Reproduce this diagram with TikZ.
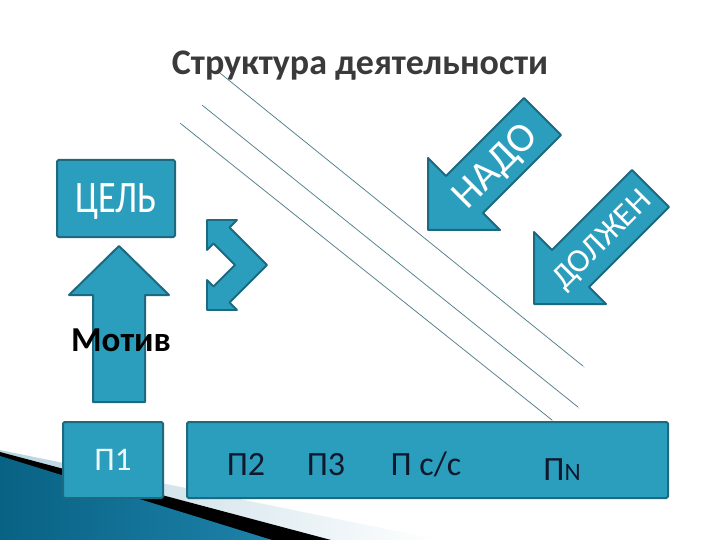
\documentclass[tikz,border=0pt]{standalone}
\usepackage{fontspec}
\setmainfont{Carlito}
\definecolor{tealfill}{RGB}{44,158,189}
\definecolor{tealline}{RGB}{28,105,128}
\definecolor{navytext}{RGB}{15,25,45}
\definecolor{titlegray}{RGB}{58,58,58}
\definecolor{diagline}{RGB}{70,125,140}
\definecolor{stripelight}{RGB}{185,212,224}
\definecolor{wedgedark}{RGB}{8,98,132}
\definecolor{wedgemid}{RGB}{80,175,210}
\definecolor{wedgeright}{RGB}{30,130,170}
\definecolor{ponetext}{RGB}{235,248,252}
\begin{document}
\begin{tikzpicture}[x=1pt,y=-1pt,
  shapestyle/.style={fill=tealfill, draw=tealline, line width=2pt, line join=round},
  boxstyle/.style={shapestyle, rectangle, rounded corners=1.5pt, inner sep=0pt},
  thinline/.style={draw=diagline, line width=0.6pt},
  shadowline/.style={draw=black!15, line width=0.8pt},
  fs/.style={font=\fontsize{#1}{#1}\selectfont, text height=0.644*#1pt, text depth=0pt}
]
\useasboundingbox (0,0) rectangle (720,540);
\fill[white] (0,0) rectangle (720,540);

% bottom-left decoration
\shade[left color=stripelight, right color=white]
  (0,450) -- (440,540) -- (0,540) -- cycle;
\fill[black] (0,452) -- (331,540) -- (0,540) -- cycle;
\shade[left color=wedgedark, middle color=wedgemid, right color=wedgeright]
  (0,456) -- (272,540) -- (0,540) -- cycle;

% title
\node (title) [anchor=base, text=titlegray, font=\bfseries\fontsize{36}{36}\selectfont] at (360,75) {Структура деятельности};

% diagonal thin lines
\coordinate (l1a) at (220,73);  \coordinate (l1b) at (583,366);
\coordinate (l2a) at (202,105); \coordinate (l2b) at (578,407);
\coordinate (l3a) at (180,123); \coordinate (l3b) at (552,420);
\foreach \a/\b in {l1a/l1b,l2a/l2b,l3a/l3b}{
  \draw[shadowline] ([shift={(1.5,1.5)}]\a) -- ([shift={(1.5,1.5)}]\b);
  \draw[thinline] (\a) -- (\b);
}

% ЦЕЛЬ box
\node (goal) [boxstyle, minimum width=118, minimum height=77, text=white, fs=45] at (116,198.5) {\scalebox{0.8}[1]{ЦЕЛЬ}};

% up arrow
\draw[shapestyle] (119,246) -- (169,295) -- (145,295) -- (145,402) -- (93,402) -- (93,295) -- (69,295) -- cycle;
\node (motive) [anchor=base, text=black, font=\bfseries\fontsize{35}{35}\selectfont] at (121,351) {Мотив};

% double chevron arrow
\draw[shapestyle, line width=1.8pt] (207,220) -- (237,220) -- (229.5,227.5) -- (267,265) -- (229.5,302.5) -- (237,310)
  -- (207,310) -- (207,280) -- (213.5,286.5) -- (235,265) -- (213.5,243.5) -- (207,250) -- cycle;

% НАДО arrow
\draw[shapestyle] (428,230) -- (428,158) -- (446,176) -- (524,98) -- (561,135) -- (483,213) -- (500,230) -- cycle;
\node (nado) [rotate=45, text=white, fs=41] at (494,165) {НАДО};

% ДОЛЖЕН arrow
\draw[shapestyle] (534,304) -- (534,232) -- (552,250) -- (632,170) -- (669,207) -- (589,287) -- (606,304) -- cycle;
\node (dolzhen) [rotate=45, text=white, fs=33] at (601,239) {ДОЛЖЕН};

% bottom boxes
\node (p1box) [boxstyle, minimum width=100, minimum height=76, text=ponetext, fs=33] at (113,460) {П1};
\node (pbox) [boxstyle, minimum width=481, minimum height=76] at (427.5,460) {};
\node (p2) [text=navytext, fs=34] at (246,465) {П2};
\node (p3) [text=navytext, fs=34] at (326,465) {П3};
\node (psc) [text=navytext, fs=34] at (426,465) {П с/с};
\node (pn) [text=navytext, fs=34] at (562,470) {П{\fontsize{25}{25}\selectfont N}};
\end{tikzpicture}
\end{document}
